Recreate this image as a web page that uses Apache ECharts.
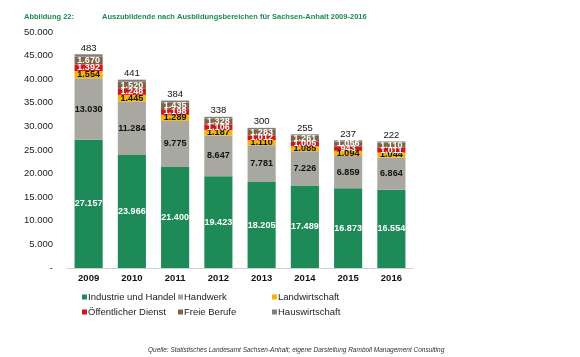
<!DOCTYPE html>
<html><head><meta charset="utf-8">
<script src="https://cdn.jsdelivr.net/npm/echarts@6/dist/echarts.min.js"></script>
<style>html,body{margin:0;padding:0;background:#fff}#c{width:580px;height:357px}</style>
</head><body><div id="c"></div>
<script>
const years = ['2009','2010','2011','2012','2013','2014','2015','2016'];
const industrie = [27157, 23966, 21400, 19423, 18205, 17489, 16873, 16554];
const handwerk = [13030, 11284, 9775, 8647, 7781, 7226, 6859, 6864];
const landwirtschaft = [1554, 1445, 1289, 1187, 1110, 1085, 1094, 1044];
const oeffentlich = [1392, 1248, 1198, 1106, 1012, 1005, 943, 1011];
const freie = [1670, 1520, 1435, 1328, 1283, 1261, 1056, 1110];
const haus = [483, 441, 384, 338, 300, 255, 237, 222];
const yTicks = [0, 5000, 10000, 15000, 20000, 25000, 30000, 35000, 40000, 45000, 50000];

function de(v){ return v === 0 ? '-' : String(v).replace(/\B(?=(\d{3})+(?!\d))/g, '.'); }
const FONT = 'Liberation Sans, Arial, sans-serif';

function ser(name, data, color, lblColor, pos){
  return {
    name, type:'bar', stack:'s', data, barWidth:'65%',
    itemStyle:{color},
    label:{show:true, position:pos||'inside', color:lblColor, fontFamily:FONT,
      fontSize: pos==='top' ? 9.5 : 9, fontWeight: pos==='top' ? 'normal' : 'bold',
      distance: 1, formatter:p=>de(p.value)}
  };
}

const chart = echarts.init(document.getElementById('c'), null, {renderer:'canvas'});
const legendBase = {orient:'vertical', top:287, itemWidth:5, itemHeight:5, itemGap:5, icon:'rect',
  textStyle:{fontFamily:FONT, fontSize:9.5, color:'#222', padding:[0,0,0,-4]}};
chart.setOption({
  animation:false,
  title:[
    {text:'Abbildung 22:', left:19, top:8, textStyle:{fontFamily:FONT, fontSize:7.5, fontWeight:'bold', color:'#1d8a50'}},
    {text:'Auszubildende nach Ausbildungsbereichen für Sachsen-Anhalt 2009-2016', left:97, top:8, textStyle:{fontFamily:FONT, fontSize:7.5, fontWeight:'bold', color:'#1d8a50'}},
    {text:'Quelle: Statistisches Landesamt Sachsen-Anhalt; eigene Darstellung Ramboll Management Consulting', left:143, top:342, textStyle:{fontFamily:FONT, fontSize:6.5, fontStyle:'italic', fontWeight:'normal', color:'#333'}}
  ],
  grid:{left:67, right:167, top:32, bottom:89},
  legend:[
    Object.assign({}, legendBase, {left:77, data:['Industrie und Handel','Öffentlicher Dienst']}),
    Object.assign({}, legendBase, {left:173, data:['Handwerk','Freie Berufe']}),
    Object.assign({}, legendBase, {left:267, data:['Landwirtschaft','Hauswirtschaft']})
  ],
  xAxis:{type:'category', data:years,
    axisLine:{lineStyle:{color:'#d0d0d0'}}, axisTick:{show:false},
    axisLabel:{fontFamily:FONT, fontSize:9.5, fontWeight:'bold', color:'#111', margin:5}},
  yAxis:{type:'value', min:0, max:50000, interval:5000,
    axisLine:{show:false}, axisTick:{show:false}, splitLine:{show:false},
    axisLabel:{fontFamily:FONT, fontSize:9.5, color:'#222', margin:14, formatter:v=>de(v)}},
  series:[
    ser('Industrie und Handel', industrie, '#1e8a58', '#fff'),
    ser('Handwerk', handwerk, '#a8a8a0', '#111'),
    ser('Landwirtschaft', landwirtschaft, '#f2b50c', '#111'),
    ser('Öffentlicher Dienst', oeffentlich, '#d2141e', '#fff'),
    ser('Freie Berufe', freie, '#7f6545', '#fff'),
    ser('Hauswirtschaft', haus, '#7f7f7f', '#111', 'top')
  ]
});
</script></body></html>
